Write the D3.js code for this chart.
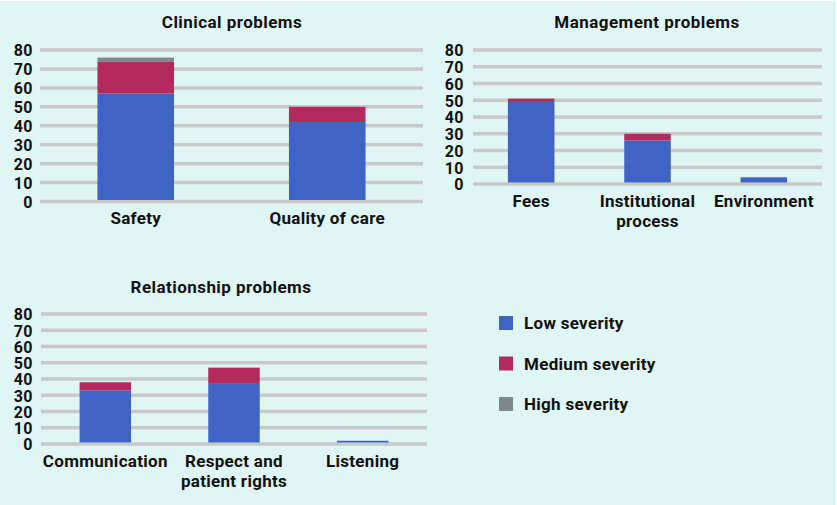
<!DOCTYPE html>
<html><head><meta charset="utf-8">
<script src="https://cdn.jsdelivr.net/npm/d3@7"></script>
<style>
html,body{margin:0;padding:0;background:#fff;}
svg{display:block;}
text{font-family:Roboto,"Noto Sans",sans-serif;font-weight:700;fill:#111;}
</style></head>
<body>
<svg id="chart" width="837" height="505"></svg>
<script>
const severities = ["Low severity", "Medium severity", "High severity"];
const colors = ["#4064c4", "#b42a5d", "#7e898b"];
const yTicks = [0, 10, 20, 30, 40, 50, 60, 70, 80];

const clinicalCategories = [["Safety"], ["Quality of care"]];
const clinicalLow = [57, 42];
const clinicalMedium = [17, 8];
const clinicalHigh = [2, 0];

const managementCategories = [["Fees"], ["Institutional", "process"], ["Environment"]];
const managementLow = [49, 26, 4];
const managementMedium = [2, 4, 0];
const managementHigh = [0, 0, 0];

const relationshipCategories = [["Communication"], ["Respect and", "patient rights"], ["Listening"]];
const relationshipLow = [33, 37, 2];
const relationshipMedium = [5, 10, 0];
const relationshipHigh = [0, 0, 0];

const svg = d3.select("#chart");
svg.append("rect").attr("x", 0).attr("y", 1).attr("width", 836).attr("height", 504).attr("fill", "#e0f6f4");

function panel(opts) {
  const { title, titleX, titleY, cats, low, med, high, x0, x1, yTop, yZero, tickX, labelY } = opts;
  const g = svg.append("g");
  const x = d3.scaleBand().domain(cats.map((c, i) => i)).range([x0, x1]).paddingInner(0.6).paddingOuter(0.3);
  const y = d3.scaleLinear().domain([0, 80]).range([yZero, yTop]);

  g.append("text").attr("x", titleX).attr("y", titleY).attr("text-anchor", "middle")
    .style("font-size", "17px").style("letter-spacing", "0.45px").text(title);

  g.selectAll("line.grid").data(yTicks).join("line")
    .attr("x1", x0).attr("x2", x1)
    .attr("y1", d => y(d)).attr("y2", d => y(d))
    .attr("stroke", "#c9c9c9").attr("stroke-width", 3.5);

  const axis = d3.axisLeft(y).tickValues(yTicks).tickSize(0).tickPadding(0);
  const ag = g.append("g").attr("transform", `translate(${tickX},0)`).call(axis);
  ag.select(".domain").remove();
  ag.selectAll("text").style("font-size", "16px").attr("fill", "#111")
    .style("font-family", "Roboto,sans-serif").style("font-weight", "700")
    .style("letter-spacing", "0.5px").attr("dy", "0.36em");

  const rows = cats.map((c, i) => ({ i, low: low[i], med: med[i], high: high[i] }));
  const stack = d3.stack().keys(["low", "med", "high"])(rows);
  stack.forEach((layer, k) => {
    g.selectAll(null).data(layer.filter(d => d[1] > d[0])).join("rect")
      .attr("x", d => x(d.data.i)).attr("width", x.bandwidth())
      .attr("y", d => y(d[1])).attr("height", d => y(d[0]) - y(d[1]) - (d[0] === 0 ? 1.5 : 0))
      .attr("fill", colors[k]);
  });

  cats.forEach((lines, i) => {
    const t = g.append("text").attr("text-anchor", "middle").style("font-size", "17px").style("letter-spacing", "0.3px");
    lines.forEach((ln, j) => {
      t.append("tspan").attr("x", x(i) + x.bandwidth() / 2).attr("y", labelY + j * 20).text(ln);
    });
  });
}

panel({ title: "Clinical problems", titleX: 232, titleY: 28, cats: clinicalCategories,
  low: clinicalLow, med: clinicalMedium, high: clinicalHigh,
  x0: 40, x1: 423, yTop: 50, yZero: 201.5, tickX: 33, labelY: 224 });

panel({ title: "Management problems", titleX: 647, titleY: 28, cats: managementCategories,
  low: managementLow, med: managementMedium, high: managementHigh,
  x0: 473, x1: 822, yTop: 50, yZero: 184, tickX: 464, labelY: 207 });

panel({ title: "Relationship problems", titleX: 221, titleY: 293, cats: relationshipCategories,
  low: relationshipLow, med: relationshipMedium, high: relationshipHigh,
  x0: 41, x1: 427, yTop: 314, yZero: 444, tickX: 33, labelY: 467 });

const legend = svg.append("g");
severities.forEach((s, i) => {
  const yy = 316 + i * 40.5;
  legend.append("rect").attr("x", 499).attr("y", yy).attr("width", 14).attr("height", 14).attr("fill", colors[i]);
  legend.append("text").attr("x", 524).attr("y", yy + 13).style("font-size", "17px").style("letter-spacing", "0.3px").text(s);
});
</script>
</body></html>
